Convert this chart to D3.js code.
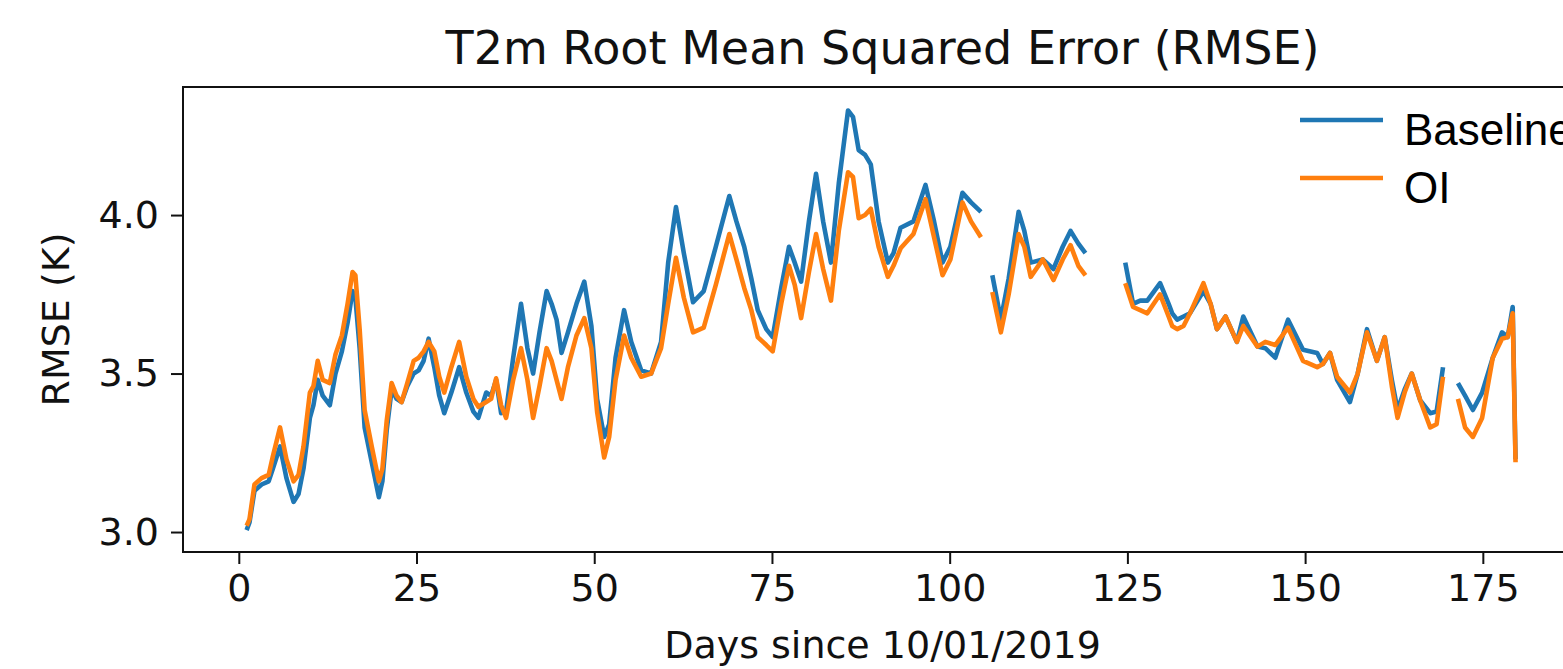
<!DOCTYPE html>
<html>
<head>
<meta charset="utf-8">
<script src="https://cdn.jsdelivr.net/npm/d3@7"></script>
<style>
  body { margin: 0; background: #fff; }
  svg { display: block; }
  .tick text { font-family: "DejaVu Sans", sans-serif; }
</style>
</head>
<body>
<div id="chart"></div>
<script>
// days since 10/01/2019 (null values = gaps in the record)
const days = [
    1.1, 1.5, 2.2, 3.2, 4.2, 4.8, 5.8, 6.7, 7.7, 8.4, 9.1, 10.0, 10.5, 11.1, 11.8, 12.8,
    13.6, 14.5, 15.3, 16.0, 16.4, 17.0, 17.7, 18.7, 19.7, 20.2, 20.8, 21.5, 22.2, 22.9,
    23.7, 24.6, 25.3, 26.0, 26.7, 27.5, 28.2, 28.9, 29.9, 31.0, 32.0, 33.0, 33.7, 34.8,
    35.5, 36.2, 36.9, 37.6, 38.6, 39.7, 40.6, 41.4, 42.3, 43.3, 44.0, 44.7, 45.4, 46.3,
    47.5, 48.6, 49.6, 50.4, 51.4, 52.1, 53.0, 54.2, 55.2, 56.6, 58.0, 59.4, 60.4, 61.5,
    62.6, 63.9, 65.4, 67.1, 69.0, 70.0, 71.1, 72.1, 73.0, 74.2, 75.1, 76.3, 77.4, 78.2,
    79.1, 80.2, 81.2, 82.2, 83.3, 84.4, 85.7, 86.4, 87.2, 88.1, 88.9, 90.0, 91.3, 92.1,
    93.1, 94.9, 96.6, 97.8, 99.0, 100.1, 101.8, 103.0, 104.4,
    105.2,
    106.0, 107.2, 108.3, 109.7, 110.5, 111.4, 113.1, 114.6, 115.9, 117.0, 118.1, 119.1,
    122.0,
    124.7, 125.8, 126.8, 127.8, 129.6, 130.8, 131.3, 132.0, 132.9, 133.8, 135.7, 136.7,
    137.6, 138.8, 140.4, 141.3, 143.3, 144.4, 145.8, 147.6, 149.7, 151.7, 152.5, 153.5,
    154.5, 156.3, 157.4, 158.7, 160.1, 161.2, 162.2, 163.0, 164.0, 165.0, 166.2, 167.6,
    168.5, 169.4,
    170.5,
    171.5, 172.5, 173.6, 174.9, 176.4, 177.7, 178.5, 179.2, 179.6
]

const baseline = [
    3.006, 3.03, 3.13, 3.15, 3.16, 3.20, 3.27, 3.17, 3.095, 3.12, 3.20, 3.36, 3.40, 3.48, 3.43, 3.40,
    3.50, 3.57, 3.66, 3.76, 3.74, 3.58, 3.33, 3.22, 3.11, 3.16, 3.32, 3.45, 3.42, 3.41,
    3.46, 3.50, 3.51, 3.54, 3.61, 3.52, 3.43, 3.375, 3.44, 3.52, 3.44, 3.38, 3.36, 3.44,
    3.43, 3.48, 3.375, 3.38, 3.55, 3.72, 3.58, 3.50, 3.63, 3.76, 3.72, 3.67, 3.565, 3.63,
    3.72, 3.79, 3.65, 3.42, 3.30, 3.34, 3.55, 3.70, 3.60, 3.51, 3.50, 3.60, 3.85, 4.025,
    3.88, 3.725, 3.76, 3.90, 4.06, 3.98, 3.90, 3.80, 3.70, 3.64, 3.615, 3.77, 3.90, 3.85,
    3.79, 3.98, 4.13, 3.98, 3.85, 4.10, 4.33, 4.31, 4.205, 4.19, 4.16, 3.98, 3.85, 3.88,
    3.96, 3.98, 4.095, 3.98, 3.85, 3.90, 4.07, 4.04, 4.01,
    null,
    3.81, 3.67, 3.80, 4.01, 3.95, 3.85, 3.86, 3.83, 3.90, 3.95, 3.91, 3.88,
    null,
    3.85, 3.72, 3.73, 3.73, 3.785, 3.72, 3.69, 3.67, 3.68, 3.69, 3.76, 3.72,
    3.64, 3.68, 3.60, 3.68, 3.585, 3.58, 3.55, 3.67, 3.575, 3.565, 3.53, 3.565,
    3.48, 3.41, 3.50, 3.64, 3.54, 3.615, 3.48, 3.385, 3.45, 3.50, 3.415, 3.375,
    3.38, 3.52,
    null,
    3.47, 3.43, 3.385, 3.44, 3.55, 3.63, 3.615, 3.71, 3.23
]

const oi = [
    3.02, 3.04, 3.15, 3.17, 3.18, 3.24, 3.33, 3.23, 3.16, 3.18, 3.27, 3.44, 3.46, 3.54, 3.48, 3.47,
    3.56, 3.62, 3.72, 3.82, 3.81, 3.64, 3.385, 3.27, 3.16, 3.20, 3.35, 3.47, 3.43, 3.41,
    3.47, 3.54, 3.55, 3.57, 3.60, 3.57, 3.49, 3.44, 3.52, 3.60, 3.49, 3.42, 3.395, 3.41,
    3.42, 3.485, 3.40, 3.36, 3.48, 3.58, 3.48, 3.36, 3.46, 3.58, 3.54, 3.48, 3.42, 3.52,
    3.62, 3.675, 3.58, 3.38, 3.235, 3.30, 3.48, 3.62, 3.55, 3.49, 3.50, 3.58, 3.72, 3.865,
    3.74, 3.63, 3.645, 3.78, 3.94, 3.86, 3.77, 3.70, 3.615, 3.59, 3.57, 3.72, 3.84, 3.78,
    3.675, 3.82, 3.94, 3.83, 3.73, 3.95, 4.135, 4.12, 3.99, 4.00, 4.02, 3.90, 3.805, 3.84,
    3.895, 3.94, 4.05, 3.93, 3.81, 3.86, 4.04, 3.98, 3.93,
    null,
    3.757, 3.63, 3.75, 3.94, 3.90, 3.805, 3.86, 3.795, 3.86, 3.905, 3.84, 3.81,
    null,
    3.785, 3.71, 3.70, 3.69, 3.75, 3.68, 3.65, 3.64, 3.65, 3.69, 3.785, 3.72,
    3.64, 3.68, 3.60, 3.65, 3.585, 3.60, 3.59, 3.645, 3.54, 3.52, 3.53, 3.565,
    3.49, 3.44, 3.50, 3.63, 3.54, 3.615, 3.46, 3.36, 3.44, 3.50, 3.415, 3.33,
    3.34, 3.49,
    null,
    3.42, 3.33, 3.30, 3.36, 3.55, 3.61, 3.615, 3.69, 3.22
]

const xTicks = [0, 25, 50, 75, 100, 125, 150, 175]
const yTicks = [3.0, 3.5, 4.0]
const seriesNames = ['Baseline', 'OI']
const seriesColors = ['#1f77b4', '#ff7f0e']

const width = 1563
const height = 669
const plot = { left: 183, top: 87, right: 1582, bottom: 552 }

const svg = d3.select('#chart').append('svg')
    .attr('width', width)
    .attr('height', height)

const x = d3.scaleLinear().domain([-7.85, 188.95]).range([plot.left, plot.right])
const y = d3.scaleLinear().domain([2.937, 4.404]).range([plot.bottom, plot.top])

svg.append('clipPath').attr('id', 'clip')
    .append('rect')
    .attr('x', plot.left).attr('y', plot.top)
    .attr('width', plot.right - plot.left).attr('height', plot.bottom - plot.top)

// lines
const series = [baseline, oi]
series.forEach((vals, i) => {
    const pts = days.map((d, j) => [d, vals[j]])
    const line = d3.line()
        .defined(p => p[1] != null)
        .x(p => x(p[0]))
        .y(p => y(p[1]))
    svg.append('path')
        .datum(pts)
        .attr('clip-path', 'url(#clip)')
        .attr('fill', 'none')
        .attr('stroke', seriesColors[i])
        .attr('stroke-width', 4.6)
        .attr('stroke-linejoin', 'round')
        .attr('d', line)
})

// axes
const xAxis = svg.append('g')
    .attr('transform', `translate(0,${plot.bottom})`)
    .call(d3.axisBottom(x).tickValues(xTicks).tickSize(12).tickPadding(10).tickFormat(d3.format('d')))
const yAxis = svg.append('g')
    .attr('transform', `translate(${plot.left},0)`)
    .call(d3.axisLeft(y).tickValues(yTicks).tickSize(12).tickPadding(12).tickFormat(d3.format('.1f')))

;[xAxis, yAxis].forEach(g => {
    g.select('.domain').remove()
    g.selectAll('.tick line').attr('stroke', '#111').attr('stroke-width', 2)
    g.selectAll('.tick text').attr('font-size', 38).attr('fill', '#111')
})

// frame
svg.append('rect')
    .attr('x', plot.left).attr('y', plot.top)
    .attr('width', plot.right - plot.left).attr('height', plot.bottom - plot.top)
    .attr('fill', 'none')
    .attr('stroke', '#111')
    .attr('stroke-width', 2)

// texts
svg.append('text')
    .attr('x', (plot.left + plot.right) / 2)
    .attr('y', 64)
    .attr('text-anchor', 'middle')
    .attr('font-family', 'DejaVu Sans')
    .attr('font-size', 46)
    .attr('fill', '#111')
    .text('T2m Root Mean Squared Error (RMSE)')

svg.append('text')
    .attr('x', (plot.left + plot.right) / 2)
    .attr('y', 658)
    .attr('text-anchor', 'middle')
    .attr('font-family', 'DejaVu Sans')
    .attr('font-size', 38)
    .attr('fill', '#111')
    .text('Days since 10/01/2019')

svg.append('text')
    .attr('transform', `translate(69,${(plot.top + plot.bottom) / 2}) rotate(-90)`)
    .attr('text-anchor', 'middle')
    .attr('font-family', 'DejaVu Sans')
    .attr('font-size', 38)
    .attr('fill', '#111')
    .text('RMSE (K)')

// legend (cut by the right edge, as in the reference)
const legend = svg.append('g')
seriesNames.forEach((name, i) => {
    const ly = 120 + i * 58
    legend.append('line')
        .attr('x1', 1300).attr('x2', 1383)
        .attr('y1', ly).attr('y2', ly)
        .attr('stroke', seriesColors[i])
        .attr('stroke-width', 4.6)
    legend.append('text')
        .attr('x', 1404)
        .attr('y', ly + 25)
        .attr('font-family', 'Liberation Sans, Arial, sans-serif')
        .attr('font-size', 44)
        .attr('fill', '#000')
        .text(name)
})
</script>
</body>
</html>
